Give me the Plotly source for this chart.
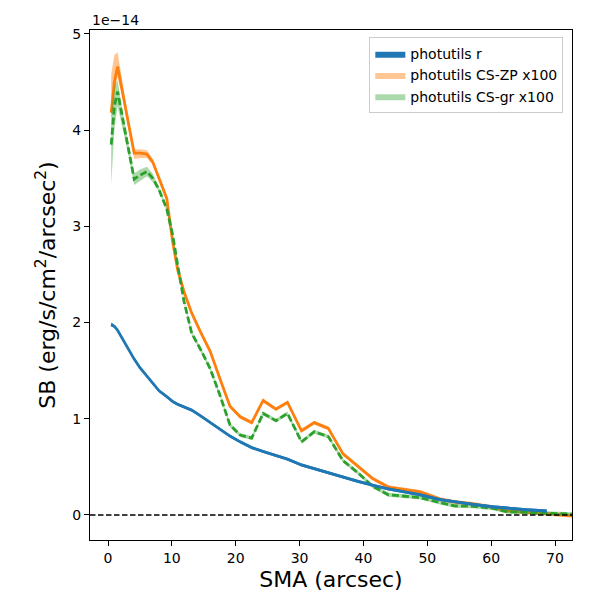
import plotly.graph_objects as go

# SMA (arcsec)
sma = [0.5, 1.0, 1.5, 2.2, 3.0, 4.1, 5.0, 6.1, 7.0, 8.0, 9.2, 10.1, 10.9, 11.9, 13.1, 14.5,
       16.0, 17.5, 19.1, 20.7, 22.5, 24.3, 26.3, 28.1, 30.3, 32.3, 34.5, 36.8, 39.1, 41.4,
       43.9, 46.4, 48.9, 52.0, 54.3, 57.2, 60.3, 62.4, 65.5, 68.7, 73.0]

# Surface brightness in units of 1e-14 erg/s/cm^2/arcsec^2
sb_r = [1.98, 1.96, 1.92, 1.84, 1.74, 1.62, 1.53, 1.44, 1.36, 1.29, 1.23, 1.18, 1.15, 1.12,
        1.09, 1.03, 0.96, 0.89, 0.82, 0.76, 0.70, 0.66, 0.62, 0.58, 0.52, 0.48, 0.44, 0.39,
        0.35, 0.31, 0.27, 0.24, 0.21, 0.16, 0.135, 0.11, 0.085, 0.07, 0.055, 0.042, None]
sb_r_err = [0.02, 0.015, 0.015, 0.015, 0.015, 0.015, 0.015, 0.015, 0.015, 0.015, 0.015, 0.015,
            0.015, 0.015, 0.015, 0.015, 0.015, 0.015, 0.015, 0.015, 0.015, 0.015, 0.015, 0.015,
            0.015, 0.015, 0.015, 0.015, 0.015, 0.015, 0.015, 0.015, 0.015, 0.015, 0.015, 0.015,
            0.015, 0.015, 0.015, 0.015, None]

sb_zp = [4.18, 4.50, 4.66, 4.42, 4.13, 3.76, 3.76, 3.75, 3.67, 3.50, 3.29, 2.85, 2.55, 2.32,
         2.10, 1.90, 1.70, 1.42, 1.13, 1.02, 0.96, 1.19, 1.10, 1.17, 0.875, 0.96, 0.90, 0.635,
         0.51, 0.38, 0.29, 0.265, 0.24, 0.165, 0.135, 0.115, 0.08, 0.045, 0.03, 0.018, -0.01]
sb_zp_hi = [4.58, 4.78, 4.81, 4.52, 4.20, 3.80, 3.80, 3.79, 3.70, 3.52, 3.31, 2.87, 2.57, 2.34,
            2.12, 1.92, 1.72, 1.44, 1.15, 1.04, 0.98, 1.21, 1.12, 1.19, 0.895, 0.98, 0.92, 0.655,
            0.53, 0.40, 0.31, 0.285, 0.26, 0.185, 0.155, 0.135, 0.10, 0.065, 0.05, 0.038, 0.01]
sb_zp_lo = [4.12, 4.40, 4.55, 4.36, 4.08, 3.70, 3.71, 3.71, 3.64, 3.48, 3.27, 2.83, 2.53, 2.30,
            2.08, 1.88, 1.68, 1.40, 1.11, 1.00, 0.94, 1.17, 1.08, 1.15, 0.855, 0.94, 0.88, 0.615,
            0.49, 0.36, 0.27, 0.245, 0.22, 0.145, 0.115, 0.095, 0.06, 0.025, 0.01, -0.002, -0.03]

sb_gr = [3.85, 4.25, 4.40, 4.15, 3.87, 3.49, 3.53, 3.57, 3.50, 3.38, 3.18, 2.92, 2.60, 2.22,
         1.89, 1.72, 1.52, 1.25, 0.935, 0.83, 0.80, 1.055, 0.98, 1.055, 0.76, 0.865, 0.815,
         0.565, 0.44, 0.30, 0.21, 0.195, 0.18, 0.128, 0.094, 0.09, 0.07, 0.035, 0.028, 0.024,
         0.008]
sb_gr_hi = [4.20, 4.45, 4.52, 4.22, 3.93, 3.55, 3.59, 3.62, 3.55, 3.40, 3.20, 2.94, 2.62, 2.24,
            1.91, 1.74, 1.54, 1.27, 0.955, 0.85, 0.82, 1.075, 1.00, 1.075, 0.78, 0.885, 0.835,
            0.585, 0.46, 0.32, 0.23, 0.215, 0.20, 0.148, 0.114, 0.11, 0.09, 0.055, 0.048, 0.044,
            0.028]
sb_gr_lo = [3.43, 4.00, 4.25, 4.05, 3.80, 3.43, 3.47, 3.52, 3.46, 3.36, 3.16, 2.90, 2.58, 2.20,
            1.87, 1.70, 1.50, 1.23, 0.915, 0.81, 0.78, 1.035, 0.96, 1.035, 0.74, 0.845, 0.795,
            0.545, 0.42, 0.28, 0.19, 0.175, 0.16, 0.108, 0.074, 0.07, 0.05, 0.015, 0.008, 0.004,
            -0.012]

labels = ["photutils r", "photutils CS-ZP x100", "photutils CS-gr x100"]
BLUE, ORANGE, GREEN = "#1f77b4", "#ff7f0e", "#2ca02c"

fig = go.Figure()

n_r = sum(v is not None for v in sb_r)
xr = sma[:n_r]
r_hi = [sb_r[i] + sb_r_err[i] for i in range(n_r)]
r_lo = [sb_r[i] - sb_r_err[i] for i in range(n_r)]

def band(x, lo, hi, color, name, group, rank):
    fig.add_trace(go.Scatter(x=x, y=lo, mode="lines", line=dict(width=0, color=color),
                             showlegend=False, hoverinfo="skip", legendgroup=group))
    fig.add_trace(go.Scatter(x=x, y=hi, mode="lines", line=dict(width=0, color=color),
                             fill="tonexty", fillcolor=color, name=name, legendgroup=group,
                             legendrank=rank))

band(sma, sb_zp_lo, sb_zp_hi, "rgba(255,127,14,0.45)", labels[1], "zp", 2)
fig.add_trace(go.Scatter(x=sma, y=sb_zp, mode="lines", line=dict(color=ORANGE, width=2.8),
                         showlegend=False, legendgroup="zp"))
band(sma, sb_gr_lo, sb_gr_hi, "rgba(44,160,44,0.4)", labels[2], "gr", 3)
fig.add_trace(go.Scatter(x=sma, y=sb_gr, mode="lines",
                         line=dict(color=GREEN, width=2.8, dash="7px,3px"),
                         showlegend=False, legendgroup="gr"))
band(xr, r_lo, r_hi, BLUE, labels[0], "r", 1)
fig.add_trace(go.Scatter(x=xr, y=sb_r[:n_r], mode="lines", line=dict(color=BLUE, width=2.8),
                         showlegend=False, legendgroup="r"))

fig.add_shape(type="line", xref="paper", yref="y", x0=0, x1=1, y0=0, y1=0,
              line=dict(color="black", width=1.6, dash="5.5px,2.5px"), layer="above")

fig.add_annotation(text="1e\u221214", xref="paper", yref="paper", x=0, y=1, xanchor="left",
                   yanchor="bottom", showarrow=False, font=dict(size=14, color="black"),
                   yshift=0)

fig.update_layout(
    width=584, height=584,
    margin=dict(l=82, r=20, t=22, b=52),
    plot_bgcolor="white", paper_bgcolor="white",
    font=dict(family="DejaVu Sans", size=14, color="black"),
    legend=dict(x=0.982, y=0.986, xanchor="right", yanchor="top",
                bordercolor="#cccccc", borderwidth=1, bgcolor="rgba(255,255,255,0.8)",
                font=dict(size=14), traceorder="normal", tracegroupgap=0),
    xaxis=dict(range=[-2.82, 72.66], tickvals=[0, 10, 20, 30, 40, 50, 60, 70],
               showgrid=False, zeroline=False, showline=True, linecolor="black", linewidth=1,
               mirror=True, ticks="outside", ticklen=5, tickcolor="black",
               tickfont=dict(size=14), automargin=False,
               title=dict(text="SMA (arcsec)", font=dict(size=22), standoff=6)),
    yaxis=dict(range=[-0.26, 5.04], tickvals=[0, 1, 2, 3, 4, 5],
               showgrid=False, zeroline=False, showline=True, linecolor="black", linewidth=1,
               mirror=True, ticks="outside", ticklen=5, tickcolor="black",
               tickfont=dict(size=14), automargin=False,
               title=dict(text="SB (erg/s/cm<sup>2</sup>/arcsec<sup>2</sup>)",
                          font=dict(size=22), standoff=10)),
)

fig.write_html("out.html")
